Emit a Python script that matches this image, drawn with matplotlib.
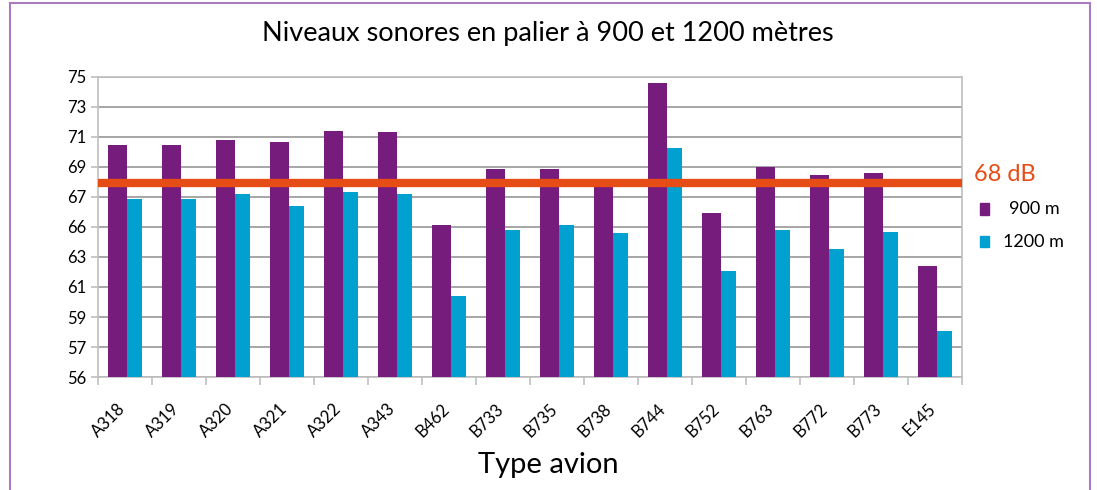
import matplotlib.pyplot as plt
import matplotlib.transforms as mtransforms
from matplotlib.patches import Rectangle
import numpy as np

## data
avions = ['A318', 'A319', 'A320', 'A321', 'A322', 'A343', 'B462', 'B733',
          'B735', 'B738', 'B744', 'B752', 'B763', 'B772', 'B773', 'E145']
niveau_900 = [70.7, 70.7, 71.0, 70.9, 71.6, 71.5, 65.6, 69.2,
              69.2, 68.1, 74.6, 66.4, 69.3, 68.8, 68.9, 63.0]
niveau_1200 = [67.3, 67.3, 67.6, 66.8, 67.7, 67.6, 61.1, 65.3,
               65.6, 65.1, 70.5, 62.7, 65.3, 64.1, 65.2, 58.9]
seuil = 68.3
y_labels = ['56', '57', '59', '61', '63', '66', '67', '69', '71', '73', '75']

violet = '#751c7c'
bleu = '#00a0d1'
orange = '#e64c16'
gris = '#a6a6a6'

plt.rcParams['font.family'] = ['Lato', 'DejaVu Sans']

fig = plt.figure(figsize=(10.97, 4.90), dpi=100)
ax = fig.add_axes([0.0893, 0.2306, 0.7877, 0.6123])

x = np.arange(len(avions))
ax.bar(x - 0.315, niveau_900, width=0.352, align='edge', color=violet, zorder=3)
ax.bar(x + 0.037, niveau_1200, width=0.278, align='edge', color=bleu, zorder=3)
ax.axhline(seuil, color=orange, lw=6, zorder=4)

ax.set_xlim(-0.5, len(avions) - 0.5)
ax.set_ylim(56, 75)
yt = np.linspace(56, 75, 11)
ax.set_yticks(yt)
ax.set_yticklabels(y_labels, fontsize=12)
ax.yaxis.grid(True, color=gris, lw=1.4, zorder=0)

ax.set_xticks(np.arange(len(avions) + 1) - 0.5)
ax.set_xticklabels([])
ax.set_xticks(x, minor=True)
ax.set_xticklabels(avions, minor=True, rotation=45, ha='right', rotation_mode='anchor', fontsize=12)
ax.tick_params(axis='x', which='minor', length=0, pad=17)
ax.tick_params(axis='x', which='major', length=6, color='#bfbfbf', width=1.2)
ax.tick_params(axis='y', length=5, color='#bfbfbf', width=1.2, pad=3)
off = mtransforms.ScaledTranslation(-0.08, 0, fig.dpi_scale_trans)
for lab in ax.get_xticklabels(minor=True):
    lab.set_transform(lab.get_transform() + off)

for s in ax.spines.values():
    s.set_color('#bfbfbf')
    s.set_linewidth(1.2)

fig.text(0.4995, 0.932, 'Niveaux sonores en palier à 900 et 1200 mètres',
         ha='center', va='center', fontsize=19.5)
fig.text(0.4995, 0.052, 'Type avion', ha='center', va='center', fontsize=21)

# legend at right
fig.text(0.888, 0.643, '68 dB', color=orange, fontsize=17, ha='left', va='center')
for i, (lab, c) in enumerate([('900 m', violet), ('1200 m', bleu)]):
    yy = 0.573 - i * 0.066
    fig.patches.append(Rectangle((0.893, yy - 0.012), 0.009, 0.024,
                                 transform=fig.transFigure, color=c))
    fig.text(0.920 if i == 0 else 0.914, yy, lab, fontsize=13, ha='left', va='center')

# purple frame
fig.patches.append(Rectangle((0.0095, -0.05), 0.984, 1.043, transform=fig.transFigure,
                             fill=False, edgecolor='#a77bbd', lw=1.5))

fig.savefig('out.png', dpi=100)
